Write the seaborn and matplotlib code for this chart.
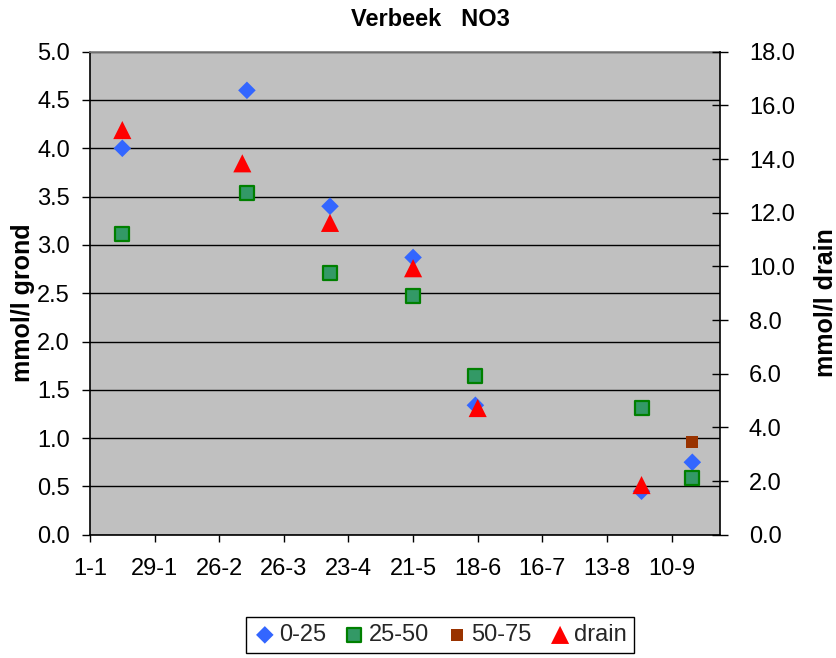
import matplotlib
matplotlib.use("Agg")
import matplotlib.pyplot as plt
import seaborn as sns
import pandas as pd
from matplotlib.ticker import MultipleLocator, FormatStrFormatter

# ---- data ----
soil_dates = ["2007-01-15", "2007-03-10", "2007-04-15", "2007-05-21",
              "2007-06-17", "2007-08-28", "2007-09-19"]
depth_0_25 = [4.00, 4.60, 3.40, 2.87, 1.34, 0.45, 0.75]
depth_25_50 = [3.11, 3.54, 2.71, 2.47, 1.64, 1.31, 0.59]
depth50_dates = ["2007-09-19"]
depth_50_75 = [0.96]
drain_dates = ["2007-01-15", "2007-03-08", "2007-04-15", "2007-05-21",
               "2007-06-18", "2007-08-28"]
drain_vals = [15.08, 13.84, 11.62, 9.93, 4.72, 1.85]
tick_dates = ["2007-01-01", "2007-01-29", "2007-02-26", "2007-03-26", "2007-04-23",
              "2007-05-21", "2007-06-18", "2007-07-16", "2007-08-13", "2007-09-10"]
tick_labels = ["1-1", "29-1", "26-2", "26-3", "23-4", "21-5", "18-6", "16-7", "13-8", "10-9"]

df_soil = pd.DataFrame({"date": pd.to_datetime(soil_dates),
                        "0-25": depth_0_25, "25-50": depth_25_50})
df_50 = pd.DataFrame({"date": pd.to_datetime(depth50_dates), "50-75": depth_50_75})
df_drain = pd.DataFrame({"date": pd.to_datetime(drain_dates), "drain": drain_vals})

sns.set_theme(style="white")
plt.rcParams["font.family"] = ["Liberation Sans", "DejaVu Sans"]

W, H = 837, 658
fig = plt.figure(figsize=(W / 100, H / 100), dpi=100)
ax = fig.add_axes([90 / W, 1 - 534.7 / H, 630 / W, (534.7 - 51.7) / H])
ax.set_facecolor("#C0C0C0")

sns.scatterplot(data=df_soil, x="date", y="0-25", marker="D", s=80, color="#3366FF",
                edgecolor="none", ax=ax, label="0-25", zorder=3)
sns.scatterplot(data=df_soil, x="date", y="25-50", marker="s", s=115, color="#339966",
                edgecolor="#008000", linewidth=1.6, ax=ax, label="25-50", zorder=3)
sns.scatterplot(data=df_50, x="date", y="50-75", marker="s", s=70, color="#993300",
                edgecolor="none", ax=ax, label="50-75", zorder=3)

ax2 = ax.twinx()
sns.scatterplot(data=df_drain, x="date", y="drain", marker="^", s=170, color="#FF0000",
                edgecolor="none", ax=ax2, label="drain", zorder=3)

for a in (ax, ax2):
    if a.get_legend() is not None:
        a.get_legend().remove()

ax.set_xlim(pd.Timestamp("2007-01-01"), pd.Timestamp("2007-10-01"))
ax.set_ylim(0, 5)
ax2.set_ylim(0, 18)
ax.yaxis.set_major_locator(MultipleLocator(0.5))
ax.yaxis.set_major_formatter(FormatStrFormatter("%.1f"))
ax2.yaxis.set_major_locator(MultipleLocator(2.0))
ax2.yaxis.set_major_formatter(FormatStrFormatter("%.1f"))
ax.set_xticks(pd.to_datetime(tick_dates))
ax.set_xticklabels(tick_labels)

ax.grid(axis="y", color="black", linewidth=1)
ax.grid(axis="x", visible=False)
ax.set_axisbelow(True)

ax.tick_params(axis="y", direction="out", length=6, width=1, color="black",
               pad=8.5, labelsize=17, left=True, labelcolor="black")
ax.tick_params(axis="x", direction="out", length=5, width=1, color="black",
               pad=11.5, labelsize=17, bottom=True, labelcolor="black")
ax2.tick_params(axis="y", direction="inout", length=11.5, width=1, color="black",
                pad=15, labelsize=17, right=True, labelcolor="black")

for s in ("left", "bottom"):
    ax.spines[s].set_color("black")
    ax.spines[s].set_linewidth(1.2)
ax.spines["top"].set_color("#808080")
ax.spines["right"].set_visible(False)
for s in ("left", "bottom", "top"):
    ax2.spines[s].set_visible(False)
ax2.spines["right"].set_color("black")
ax2.spines["right"].set_linewidth(1.2)

ax.set_xlabel("")
ax.set_ylabel("mmol/l grond", fontsize=18, fontweight="bold", color="black")
ax.yaxis.set_label_coords(-0.088, 0.48)
ax2.set_ylabel("mmol/l drain", fontsize=18, fontweight="bold", color="black", rotation=90)
ax2.yaxis.set_label_coords(1.148, 0.48)

fig.text(430 / W, 1 - 19 / H, "Verbeek   NO3", ha="center", va="center",
         fontsize=17, fontweight="bold", color="black")

h1, l1 = ax.get_legend_handles_labels()
h2, l2 = ax2.get_legend_handles_labels()
leg = fig.legend(h1 + h2, l1 + l2, loc="upper center",
                 bbox_to_anchor=(440 / W, 1 - 617 / H), ncol=4, frameon=True,
                 fancybox=False, edgecolor="black", facecolor="white", framealpha=1,
                 fontsize=17, handletextpad=0.1, columnspacing=0.7, borderpad=0.3,
                 handlelength=1.0, borderaxespad=0)
leg.get_frame().set_linewidth(1)

fig.savefig("out.png", dpi=100)
